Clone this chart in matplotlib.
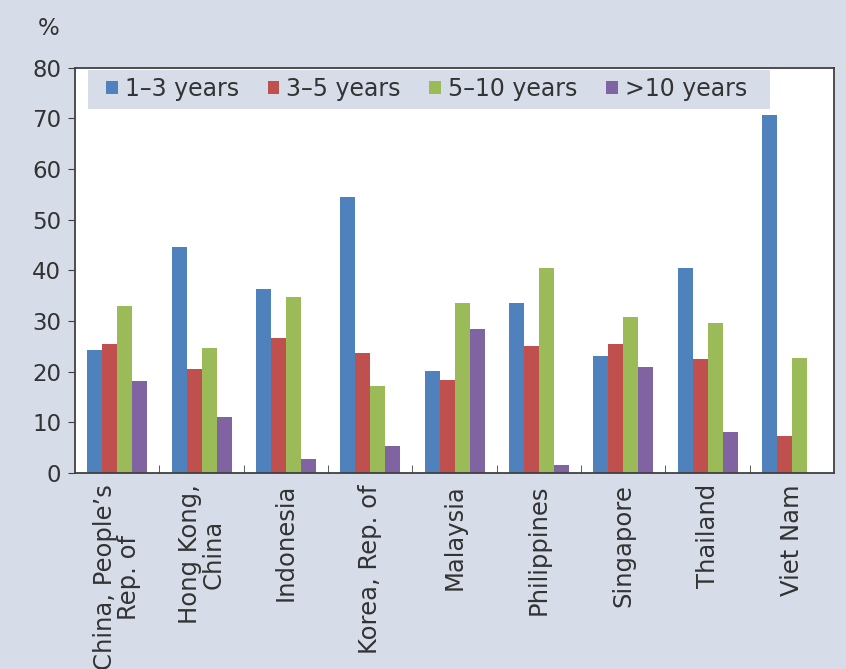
import numpy as np
import matplotlib
matplotlib.use('Agg')
import matplotlib.pyplot as plt
from matplotlib.patches import Rectangle

countries = ['China, People\u2019s\nRep. of', 'Hong Kong,\nChina', 'Indonesia', 'Korea, Rep. of',
             'Malaysia', 'Philippines', 'Singapore', 'Thailand', 'Viet Nam']
series = ['1\u20133 years', '3\u20135 years', '5\u201310 years', '>10 years']
y1_3 = [24.3, 44.6, 36.4, 54.5, 20.1, 33.5, 23.1, 40.5, 70.7]
y3_5 = [25.4, 20.6, 26.6, 23.6, 18.3, 25.0, 25.4, 22.4, 7.3]
y5_10 = [32.9, 24.6, 34.7, 17.2, 33.5, 40.5, 30.8, 29.5, 22.7]
y10 = [18.1, 11.1, 2.7, 5.3, 28.5, 1.5, 21.0, 8.0, 0.0]
colors = ['#4f81bd', '#c0504d', '#9bbb59', '#8064a2']

bg = '#d6dde9'
txt = '#333333'
plt.rcParams['font.family'] = 'DejaVu Sans'
plt.rcParams['text.color'] = txt
fig = plt.figure(figsize=(8.46, 6.69), dpi=100, facecolor=bg)
ax = fig.add_axes([0.0887, 0.293, 0.8973, 0.606])

x = np.arange(len(countries))
w = 0.178
for i, vals in enumerate([y1_3, y3_5, y5_10, y10]):
    ax.bar(x + (i - 1.5) * w, vals, width=w, color=colors[i], label=series[i])

ax.set_xlim(-0.5, len(countries) - 0.5)
ax.set_ylim(0, 80)
ax.set_yticks(range(0, 81, 10))
ax.tick_params(axis='y', labelsize=16.5, labelcolor=txt, direction='out', length=5,
               color='#404040', pad=5)
ax.set_xticks(x)
ax.set_xticklabels(countries, rotation=90, va='top', ha='center',
                   multialignment='center', fontsize=17.5, linespacing=1.0, color=txt)
ax.tick_params(axis='x', length=0, pad=8)
ax.set_xticks(np.arange(0.5, len(countries) - 0.5), minor=True)
ax.tick_params(axis='x', which='minor', direction='in', length=6, color='#404040')
for s in ax.spines.values():
    s.set_color('#404040')
    s.set_linewidth(1.3)

fig.text(0.058, 0.958, '%', fontsize=16.5, ha='center', va='center')

# legend band
ax.add_patch(Rectangle((0.0171, 0.898), 0.8986, 0.097, transform=ax.transAxes,
                       facecolor=bg, edgecolor='none', zorder=3))
leg = ax.legend(loc='center left', bbox_to_anchor=(0.041, 0.947), ncol=4, fontsize=17,
                frameon=False, handlelength=0.5, handleheight=0.5,
                handletextpad=0.3, columnspacing=1.2, borderpad=0, borderaxespad=0)
leg.set_zorder(4)

fig.savefig('out.png', dpi=100, facecolor=bg)
